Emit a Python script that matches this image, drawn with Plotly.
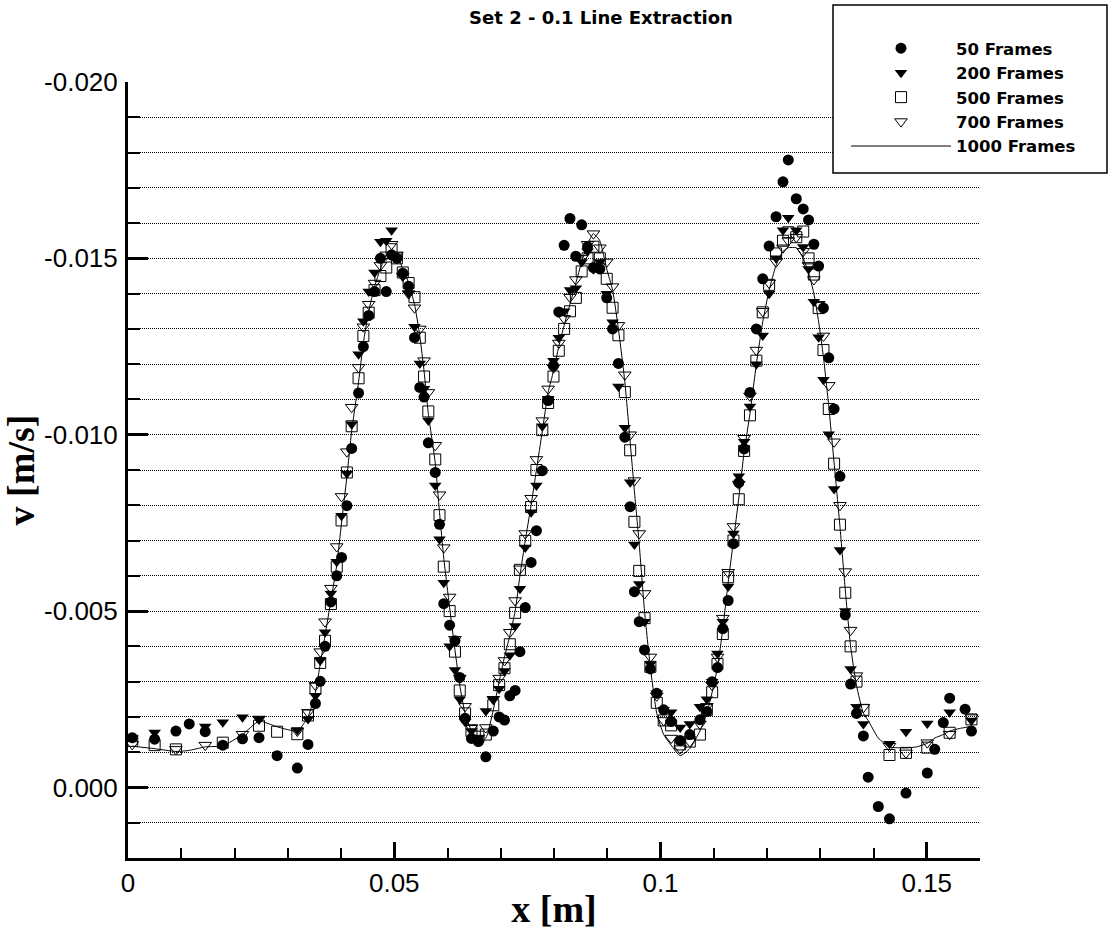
import plotly.graph_objects as go

# ---------------- data ----------------
x_m = [
    # flat start
    0.0008, 0.0050, 0.0090, 0.0115, 0.0145, 0.0178, 0.0215, 0.0246, 0.0280, 0.0318, 0.0338,
    # rise 1
    0.0352, 0.0361, 0.0370, 0.0381, 0.0392, 0.0401, 0.0411, 0.0420, 0.0433, 0.0442, 0.0452, 0.0463, 0.0474, 0.0485, 0.0495,
    # fall 1
    0.0505, 0.0516, 0.0527, 0.0538, 0.0548, 0.0556, 0.0564, 0.0577, 0.0585, 0.0593, 0.0604, 0.0614, 0.0623, 0.0633, 0.0645, 0.0658,
    # rise 2
    0.0672, 0.0686, 0.0697, 0.0707, 0.0717, 0.0727, 0.0736, 0.0746, 0.0757, 0.0767, 0.0778, 0.0789, 0.0799, 0.0809, 0.0819, 0.0830, 0.0841, 0.0852, 0.0863, 0.0874,
    # fall 2
    0.0886, 0.0899, 0.0910, 0.0921, 0.0933, 0.0943, 0.0951, 0.0960, 0.0970, 0.0981, 0.0993, 0.1006, 0.1020, 0.1037,
    # rise 3
    0.1055, 0.1074, 0.1087, 0.1097, 0.1107, 0.1117, 0.1127, 0.1137, 0.1147, 0.1157, 0.1168, 0.1180, 0.1192, 0.1204, 0.1217, 0.1230, 0.1240,
    # fall 3
    0.1255, 0.1268, 0.1278, 0.1288, 0.1297, 0.1306, 0.1316, 0.1326, 0.1337, 0.1347, 0.1357, 0.1368, 0.1381,
    # flat end
    0.1390, 0.1409, 0.1430, 0.1461, 0.1481, 0.1501, 0.1515, 0.1531, 0.1543, 0.1561, 0.1572, 0.1584,
]

v_50 = [
    -0.00141, -0.00137, -0.00160, -0.00180, -0.00158, -0.00120, -0.00138, -0.00141, -0.00090, -0.00055, -0.00122,
    -0.00238, -0.00301, -0.00400, -0.00526, -0.00600, -0.00652, -0.00799, -0.00961, -0.01118, -0.01250, -0.01338, -0.01406, -0.01500, -0.01406, -0.01510,
    -0.01500, -0.01458, -0.01421, -0.01275, -0.01134, -0.01107, -0.00977, -0.00893, -0.00746, -0.00521, -0.00460, -0.00416, -0.00312, -0.00196, -0.00139, -0.00130,
    -0.00087, -0.00160, -0.00200, -0.00191, -0.00260, -0.00275, -0.00385, -0.00510, -0.00638, -0.00728, -0.00898, -0.01097, -0.01196, -0.01348, -0.01537, -0.01613, -0.01506, -0.01595, -0.01533, -0.01474,
    -0.01470, -0.01388, -0.01300, -0.01202, -0.00993, -0.00796, -0.00555, -0.00470, -0.00390, -0.00336, -0.00267, -0.00220, -0.00187, -0.00133,
    -0.00150, -0.00192, -0.00215, -0.00300, -0.00340, -0.00450, -0.00530, -0.00691, -0.00864, -0.00960, -0.01120, -0.01300, -0.01442, -0.01535, -0.01618, -0.01717, -0.01779,
    -0.01669, -0.01640, -0.01609, -0.01540, -0.01478, -0.01359, -0.01218, -0.01073, -0.00882, -0.00489, -0.00293, -0.00210, -0.00146,
    -0.00029, 0.00054, 0.00089, 0.00016, None, -0.00041, -0.00108, -0.00184, -0.00253, None, -0.00222, -0.00160,
]

v_200 = [
    -0.00140, -0.00156, None, None, -0.00173, -0.00185, -0.00199, -0.00194, None, -0.00163, -0.00194,
    -0.00260, -0.00360, -0.00440, -0.00550, -0.00640, -0.00770, -0.00890, -0.01030, -0.01228, -0.01322, -0.01406, -0.01460, -0.01547, -0.01550, -0.01580,
    -0.01500, -0.01450, -0.01401, -0.01306, -0.01202, -0.01130, -0.01040, -0.00856, -0.00704, -0.00580, -0.00400, -0.00333, -0.00250, -0.00186, -0.00160, -0.00140,
    -0.00217, -0.00250, -0.00280, -0.00330, -0.00375, -0.00458, -0.00563, -0.00680, -0.00780, -0.00856, -0.01024, -0.01102, -0.01210, -0.01275, -0.01350, -0.01410, -0.01415, -0.01490, -0.01520, -0.01469,
    -0.01490, -0.01400, -0.01319, -0.01137, -0.01020, -0.00865, -0.00689, -0.00577, -0.00470, -0.00350, -0.00267, -0.00220, -0.00213, -0.00170,
    -0.00180, -0.00229, -0.00250, -0.00300, -0.00380, -0.00470, -0.00570, -0.00720, -0.00882, -0.00980, -0.01080, -0.01200, -0.01281, -0.01400, -0.01500, -0.01580, -0.01615,
    -0.01580, -0.01532, -0.01470, -0.01377, -0.01276, -0.01156, -0.01001, -0.00846, -0.00673, -0.00500, -0.00336, -0.00229, -0.00180,
    None, None, -0.00124, -0.00158, None, -0.00181, None, None, -0.00213, None, None, -0.00190,
]

v_500 = [
    -0.00132, -0.00120, -0.00108, None, None, -0.00127, None, -0.00175, -0.00158, -0.00151, -0.00204,
    -0.00280, -0.00353, -0.00416, -0.00520, -0.00626, -0.00757, -0.00893, -0.01024, -0.01160, -0.01280, -0.01346, -0.01410, -0.01450, -0.01474, -0.01526,
    -0.01500, -0.01460, -0.01430, -0.01390, -0.01275, -0.01165, -0.01066, -0.00930, -0.00772, -0.00626, -0.00500, -0.00385, -0.00275, -0.00210, -0.00160, -0.00144,
    -0.00150, -0.00233, -0.00290, -0.00338, -0.00406, -0.00495, -0.00617, -0.00699, -0.00795, -0.00900, -0.01013, -0.01090, -0.01165, -0.01238, -0.01300, -0.01350, -0.01388, -0.01463, -0.01500, -0.01533,
    -0.01500, -0.01442, -0.01360, -0.01282, -0.01121, -0.00956, -0.00753, -0.00614, -0.00480, -0.00342, -0.00240, -0.00190, -0.00176, -0.00122,
    -0.00130, -0.00150, -0.00220, -0.00270, -0.00350, -0.00435, -0.00596, -0.00700, -0.00817, -0.00954, -0.01055, -0.01210, -0.01347, -0.01425, -0.01514, -0.01550, -0.01574,
    -0.01560, -0.01576, -0.01500, -0.01454, -0.01359, -0.01240, -0.01073, -0.00918, -0.00745, -0.00552, -0.00400, -0.00300, -0.00220,
    None, None, -0.00092, -0.00098, None, -0.00113, None, None, -0.00155, None, None, -0.00193,
]

v_700 = [
    -0.00122, None, -0.00108, None, -0.00120, None, -0.00151, -0.00194, None, -0.00160, -0.00213,
    -0.00290, -0.00385, -0.00470, -0.00565, -0.00683, -0.00825, -0.00952, -0.01078, -0.01191, -0.01306, -0.01370, -0.01430, -0.01480, -0.01510, -0.01540,
    -0.01510, -0.01450, -0.01400, -0.01360, -0.01300, -0.01210, -0.01120, -0.00970, -0.00830, -0.00680, -0.00540, -0.00420, -0.00310, -0.00230, -0.00170, -0.00140,
    -0.00170, -0.00250, -0.00310, -0.00360, -0.00440, -0.00530, -0.00620, -0.00720, -0.00820, -0.00930, -0.01040, -0.01130, -0.01190, -0.01260, -0.01330, -0.01390, -0.01440, -0.01500, -0.01540, -0.01570,
    -0.01530, -0.01490, -0.01420, -0.01310, -0.01170, -0.01000, -0.00870, -0.00720, -0.00550, -0.00370, -0.00260, -0.00190, -0.00140, -0.00110,
    -0.00130, -0.00180, -0.00230, -0.00290, -0.00370, -0.00480, -0.00610, -0.00740, -0.00860, -0.00990, -0.01110, -0.01240, -0.01350, -0.01430, -0.01490, -0.01530, -0.01550,
    -0.01560, -0.01520, -0.01480, -0.01440, -0.01370, -0.01280, -0.01140, -0.00980, -0.00800, -0.00612, -0.00446, -0.00317, -0.00227,
    None, None, -0.00117, -0.00098, None, -0.00127, None, None, -0.00151, None, None, -0.00198,
]

v_1000 = [
    -0.00117, -0.00110, -0.00102, -0.00105, -0.00115, -0.00118, -0.00150, -0.00188, -0.00172, -0.00160, -0.00200,
    -0.00270, -0.00350, -0.00430, -0.00530, -0.00630, -0.00750, -0.00880, -0.01010, -0.01150, -0.01260, -0.01350, -0.01420, -0.01470, -0.01510, -0.01520,
    -0.01510, -0.01470, -0.01430, -0.01370, -0.01280, -0.01180, -0.01060, -0.00920, -0.00780, -0.00650, -0.00510, -0.00390, -0.00290, -0.00210, -0.00160, -0.00130,
    -0.00140, -0.00220, -0.00300, -0.00370, -0.00430, -0.00500, -0.00600, -0.00700, -0.00800, -0.00900, -0.01010, -0.01120, -0.01180, -0.01250, -0.01310, -0.01370, -0.01430, -0.01490, -0.01540, -0.01570,
    -0.01550, -0.01470, -0.01410, -0.01300, -0.01150, -0.00980, -0.00840, -0.00690, -0.00500, -0.00340, -0.00210, -0.00150, -0.00120, -0.00090,
    -0.00110, -0.00160, -0.00210, -0.00270, -0.00340, -0.00450, -0.00580, -0.00700, -0.00820, -0.00950, -0.01060, -0.01200, -0.01320, -0.01410, -0.01480, -0.01520, -0.01530,
    -0.01530, -0.01500, -0.01460, -0.01400, -0.01320, -0.01220, -0.01080, -0.00920, -0.00740, -0.00560, -0.00400, -0.00290, -0.00210,
    -0.00190, -0.00140, -0.00115, -0.00112, -0.00115, -0.00125, -0.00140, -0.00150, -0.00160, -0.00167, -0.00170, -0.00174,
]

series_names = ["50 Frames", "200 Frames", "500 Frames", "700 Frames", "1000 Frames"]
title_text = "Set 2 - 0.1 Line Extraction"
x_title = "x [m]"
y_title = "v [m/s]"
x_tick_vals = [0, 0.05, 0.1, 0.15]
x_tick_text = ["0", "0.05", "0.1", "0.15"]
y_tick_vals = [-0.020, -0.015, -0.010, -0.005, 0.000]
y_tick_text = ["-0.020", "-0.015", "-0.010", "-0.005", "0.000"]
x_range = [0, 0.16]
y_range = [0.002, -0.020]

# ---------------- layout geometry ----------------
W, H = 1110, 930
ML, MR, MT, MB = 128, 130, 82, 72
PW, PH = W - ML - MR, H - MT - MB


def px_to_paper_x(px):
    return (px - ML) / PW


def px_to_paper_y(py):
    return (H - MB - py) / PH


fig = go.Figure()

marker_styles = [
    dict(symbol="circle", size=11, color="black"),
    dict(symbol="triangle-down", size=11, color="black"),
    dict(symbol="square-open", size=11, color="black", line=dict(width=1, color="black")),
    dict(symbol="triangle-down-open", size=11, color="black", line=dict(width=1, color="black")),
]
marker_series = [v_50, v_200, v_500, v_700]

for name, vals, style in zip(series_names[:4], marker_series, marker_styles):
    fig.add_trace(go.Scatter(x=x_m, y=vals, mode="markers", name=name, marker=style,
                             cliponaxis=False))

fig.add_trace(go.Scatter(x=x_m, y=v_1000, mode="lines", name=series_names[4],
                         line=dict(color="black", width=1, shape="spline", smoothing=0.5)))

dot = "1px,1px"
fig.update_layout(
    width=W, height=H,
    margin=dict(l=ML, r=MR, t=MT, b=MB, autoexpand=False),
    paper_bgcolor="white", plot_bgcolor="white",
    showlegend=True,
    hovermode=False,
    title=dict(text=title_text, x=601 / W, xref="container", xanchor="center",
               y=1 - 18 / H, yref="container", yanchor="middle",
               font=dict(family="DejaVu Sans", size=18, color="black", weight="bold")),
    legend=dict(x=px_to_paper_x(846), y=px_to_paper_y(31), xanchor="left", yanchor="top",
                bgcolor="rgba(0,0,0,0)", borderwidth=0,
                font=dict(family="DejaVu Sans", size=16.5, color="black", weight="bold"),
                itemwidth=100),
    xaxis=dict(range=x_range, showgrid=False, zeroline=False, automargin=False,
               showline=True, linecolor="black", linewidth=3,
               tickmode="array", tickvals=x_tick_vals, ticktext=x_tick_text,
               ticks="inside", ticklen=16, tickwidth=3, tickcolor="black",
               tickfont=dict(family="Liberation Sans", size=26, color="black"),
               ticklabelstandoff=0,
               minor=dict(tickmode="linear", tick0=0, dtick=0.01, ticks="inside",
                          ticklen=10, tickwidth=2, tickcolor="black", showgrid=False),
               title=dict(text=x_title, standoff=0,
                          font=dict(family="Liberation Serif", size=38, color="black", weight="bold"))),
    yaxis=dict(range=y_range, zeroline=False, automargin=False,
               showline=True, linecolor="black", linewidth=3,
               showgrid=True, gridcolor="black", gridwidth=1, griddash=dot,
               tickmode="array", tickvals=y_tick_vals, ticktext=y_tick_text,
               ticks="inside", ticklen=20, tickwidth=3, tickcolor="black",
               tickfont=dict(family="Liberation Sans", size=26, color="black"),
               ticklabelstandoff=2,
               minor=dict(tickmode="linear", tick0=0, dtick=0.001, ticks="inside",
                          ticklen=12, tickwidth=2, tickcolor="black",
                          showgrid=True, gridcolor="black", gridwidth=1, griddash=dot),
               title=dict(text=y_title, standoff=0,
                          font=dict(family="Liberation Serif", size=38, color="black", weight="bold"))),
    shapes=[dict(type="rect", xref="paper", yref="paper", layer="above",
                 x0=px_to_paper_x(833), x1=px_to_paper_x(1107),
                 y0=px_to_paper_y(173), y1=px_to_paper_y(5),
                 fillcolor="white", line=dict(color="black", width=1.5))],
)

fig.write_html("out.html", config={"displayModeBar": False})
